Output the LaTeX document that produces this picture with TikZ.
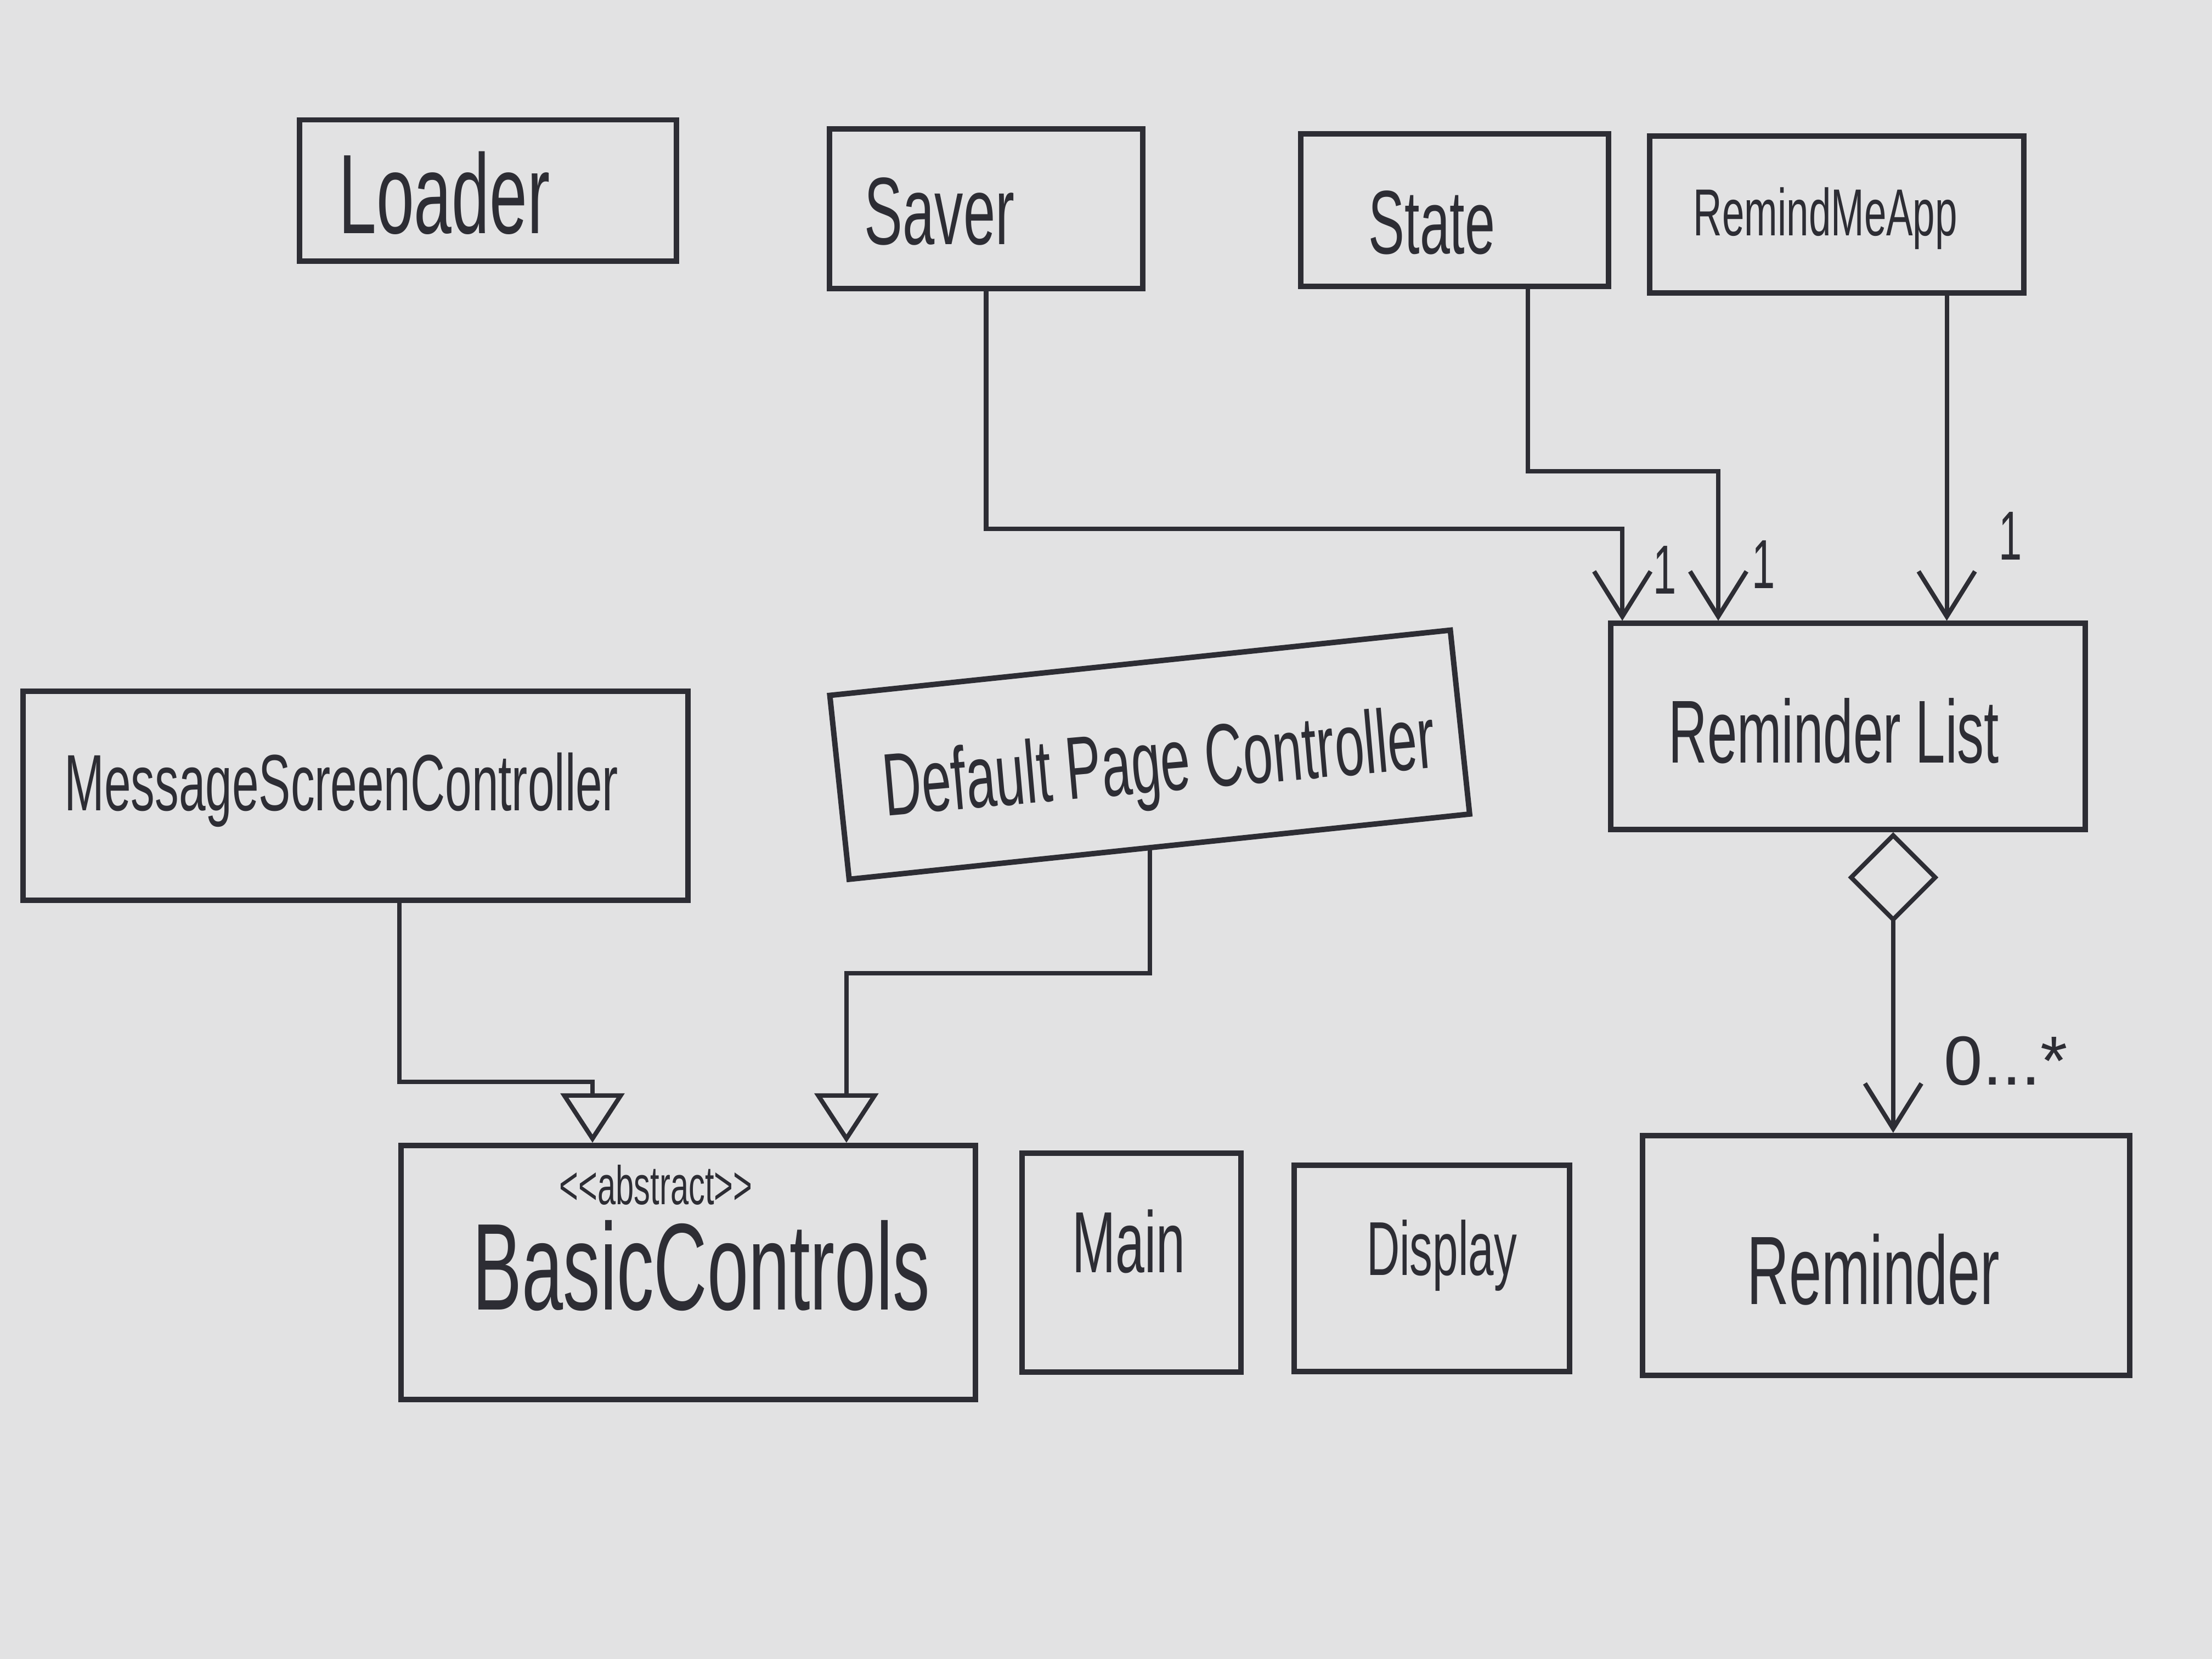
\documentclass[tikz,border=0pt]{standalone}
\usepackage{fontspec}
\newfontfamily\hand[FakeStretch=0.6]{Liberation Sans}
\newfontfamily\handn{Liberation Sans}
\usetikzlibrary{arrows.meta,calc}
\definecolor{paper}{RGB}{226,226,227}
\definecolor{ink}{RGB}{45,45,52}
\newcommand{\fs}[1]{\hand\fontsize{#1}{#1}\selectfont}
\begin{document}
\begin{tikzpicture}[x=0.01cm,y=-0.01cm,
  box/.style={draw=ink,line width=1.1pt,inner sep=0pt},
  txt/.style={text=ink,inner sep=0pt},
  assoc/.style={draw=ink,line width=0.9pt,-{Straight Barb[length=3.2mm,width=4mm]}},
  inherit/.style={draw=ink,line width=0.9pt,-{Triangle[open,length=3.5mm,width=4.5mm]}},
  compose/.style={draw=ink,line width=0.9pt,{Diamond[open,length=6.4mm,width=6.4mm]}-{Straight Barb[length=3.2mm,width=4mm]}}]
\useasboundingbox (0,0) rectangle (1568,1176);
\fill[paper] (0,0) rectangle (1568,1176);

% boxes
\node[box,minimum width=2.67cm,minimum height=1.00cm] (loader) at (346,135) {};
\node[box,minimum width=2.22cm,minimum height=1.13cm] (saver) at (699,148) {};
\node[box,minimum width=2.18cm,minimum height=1.08cm] (state) at (1031,149) {};
\node[box,minimum width=2.65cm,minimum height=1.11cm] (app) at (1302,152) {};
\node[box,minimum width=3.36cm,minimum height=1.46cm] (rlist) at (1310,515) {};
\node[box,minimum width=4.71cm,minimum height=1.48cm] (msc) at (252,564) {};
\node[box,minimum width=4.42cm,minimum height=1.31cm,rotate=6] (dpc) at (815,535) {};
\node[box,minimum width=4.07cm,minimum height=1.80cm] (basic) at (488,902) {};
\node[box,minimum width=1.55cm,minimum height=1.55cm] (main) at (802,895) {};
\node[box,minimum width=1.95cm,minimum height=1.46cm] (display) at (1015,899) {};
\node[box,minimum width=3.45cm,minimum height=1.70cm] (reminder) at (1337,890) {};

% texts
\node[txt,font=\fs{22.8}] (loaderT) at (315,137) {Loader};
\node[txt,font=\fs{19.3}] (saverT) at (666,150) {Saver};
\node[txt,font=\fs{18.2}] (stateT) at (1015,158) {State};
\node[txt,font=\fs{13.4}] (appT) at (1294,155) {RemindMeApp};
\node[txt,font=\fs{18}] (rlistT) at (1300,518) {Reminder List};
\node[txt,font=\fs{16.1}] (mscT) at (242,560) {MessageScreenController};
\node[txt,font=\fs{17.9},rotate=5] (dpcT) at (822,545) {Default Page Controller};
\node[txt,font=\fs{11}] (absT) at (465,840) {<\kern0pt<abstract>\kern0pt>};
\node[txt,font=\fs{24.9}] (basicT) at (497,897) {BasicControls};
\node[txt,font=\fs{17.5}] (mainT) at (800,880) {Main};
\node[txt,font=\fs{15.4}] (displayT) at (1022,890) {Display};
\node[txt,font=\fs{19.6}] (reminderT) at (1328,900) {Reminder};

% multiplicity labels
\node[txt,font=\fs{14}] (m1) at (1180,404) {1};
\node[txt,font=\fs{14}] (m2) at (1250,400) {1};
\node[txt,font=\fs{14}] (m3) at (1425,380) {1};
\node[txt,font=\handn\fontsize{14}{14}\selectfont] (m4) at (1422,752) {0...*};

% routing coordinates
\coordinate (k1) at (1150,375);
\coordinate (k2) at (1083,0);
\coordinate (k3) at (1218,334);
\coordinate (k4) at (1380,0);
\coordinate (k5) at (1342,0);
\coordinate (k6) at (283,0);
\coordinate (k7) at (420,767);
\coordinate (k8) at (815,0);
\coordinate (k9) at (600,690);

% connectors
\draw[assoc] (saver.south) |- (k1) -- (k1 |- rlist.north);
\draw[assoc] (state.south -| k2) |- (k3) -- (k3 |- rlist.north);
\draw[assoc] (app.south -| k4) -- (k4 |- rlist.north);
\draw[compose] (rlist.south -| k5) -- (k5 |- reminder.north);
\draw[inherit] (msc.south -| k6) |- (k7) -- (k7 |- basic.north);
\draw[inherit] (dpc.south -| k8) |- (k9) -- (k9 |- basic.north);
\end{tikzpicture}
\end{document}
